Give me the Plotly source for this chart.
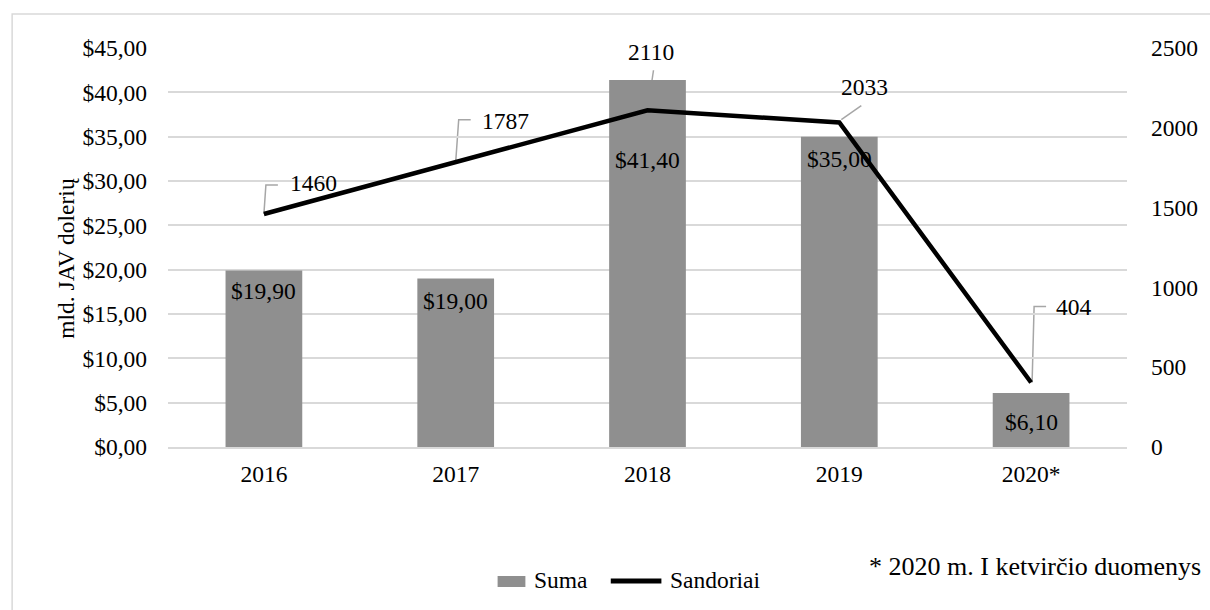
import plotly.graph_objects as go

# Chart data
years = ["2016", "2017", "2018", "2019", "2020*"]
suma = [19.90, 19.00, 41.40, 35.00, 6.10]          # mld. JAV dolerių
sandoriai = [1460, 1787, 2110, 2033, 404]          # number of deals

# Callout layout for the deal labels: (text dx, text dy, leader path) in pixels
callouts = [
    (24, 31, "M0,0 L2,29 L14,29"),
    (24, 41, "M0,0 L3,42 L15,42"),
    (-22, 58, "M0,0 L6,40"),
    (0, 36, "M2,3 L22,17"),
    (23, 76, "M1,0 L3,76 L15,76"),
]
# how far below the bar top each amount label sits (px)
bar_label_drop = [20, 22, 80, 22, 29]

FONT = "Liberation Serif, Times New Roman, serif"
GRID = "#d9d9d9"
BAR = "#8f8f8f"
FS = 23.5
PLOT_L, PLOT_R, PLOT_T, PLOT_B = 168, 1134, 48, 447


def px_x(px):
    return (px - PLOT_L) / (PLOT_R - PLOT_L)


def px_y(py):
    return (PLOT_B - py) / (PLOT_B - PLOT_T)


def money(v):
    return "$" + f"{v:.2f}".replace(".", ",")


fig = go.Figure()

fig.add_trace(go.Bar(
    x=years, y=suma, name="Suma",
    marker=dict(color=BAR, line=dict(width=0)),
    width=0.4, showlegend=False,
    yaxis="y",
))

fig.add_trace(go.Scatter(
    x=years, y=sandoriai, name="Sandoriai",
    mode="lines", showlegend=False,
    line=dict(color="#000000", width=4.5),
    yaxis="y2",
))

annotations = []
shapes = []

# amount labels inside the bars (category axis addressed by index)
for i, (v, drop) in enumerate(zip(suma, bar_label_drop)):
    annotations.append(dict(
        x=i, y=v, xref="x", yref="y",
        text=money(v), showarrow=False,
        xanchor="center", yanchor="middle", yshift=-drop,
        font=dict(family=FONT, size=FS, color="#000000"),
    ))

# deal-count callouts with leader lines
for i, (v, (dx, dy, path)) in enumerate(zip(sandoriai, callouts)):
    annotations.append(dict(
        x=i, y=v, xref="x", yref="y2",
        text=str(v), showarrow=False,
        xanchor="left", yanchor="middle",
        xshift=dx, yshift=dy,
        font=dict(family=FONT, size=FS, color="#000000"),
    ))
    shapes.append(dict(
        type="path", xref="x", yref="y2",
        xsizemode="pixel", ysizemode="pixel",
        xanchor=i, yanchor=v,
        path=path,
        line=dict(color="#a6a6a6", width=1.5),
        layer="below",
    ))

# y-axis title
annotations.append(dict(
    x=px_x(65), y=px_y(258), xref="paper", yref="paper",
    text="mld. JAV dolerių", showarrow=False, textangle=-90,
    xanchor="center", yanchor="middle",
    font=dict(family=FONT, size=FS, color="#000000"),
))

# footnote
annotations.append(dict(
    x=px_x(872), y=px_y(566), xref="paper", yref="paper",
    text="* 2020 m. I ketvirčio duomenys", showarrow=False,
    xanchor="left", yanchor="middle",
    font=dict(family=FONT, size=26, color="#000000"),
))

# legend
shapes.append(dict(
    type="rect", xref="paper", yref="paper",
    x0=px_x(500), x1=px_x(528), y0=px_y(587), y1=px_y(576),
    fillcolor=BAR, line=dict(width=0),
))
shapes.append(dict(
    type="line", xref="paper", yref="paper",
    x0=px_x(614), x1=px_x(665), y0=px_y(581), y1=px_y(581),
    line=dict(color="#000000", width=5),
))
for label, left in (("Suma", 535), ("Sandoriai", 672)):
    annotations.append(dict(
        x=px_x(left), y=px_y(580), xref="paper", yref="paper",
        text=label, showarrow=False,
        xanchor="left", yanchor="middle",
        font=dict(family=FONT, size=FS, color="#000000"),
    ))

# chart border
shapes.append(dict(
    type="rect", xref="paper", yref="paper",
    x0=px_x(11), x1=1.3, y0=-1.0, y1=px_y(14),
    line=dict(color=GRID, width=1.5), layer="below",
))

fig.update_layout(
    width=1210, height=610,
    margin=dict(l=PLOT_L, r=1210 - PLOT_R, t=PLOT_T, b=610 - PLOT_B),
    paper_bgcolor="white", plot_bgcolor="white",
    font=dict(family=FONT, size=FS, color="#000000"),
    separators=",.",
    showlegend=False,
    xaxis=dict(
        type="category", range=[-0.5, 4.5],
        showgrid=False, showline=True, linecolor=GRID, linewidth=1.5,
        ticks="", tickfont=dict(family=FONT, size=FS), ticklabelstandoff=5,
    ),
    yaxis=dict(
        range=[0, 45], dtick=5,
        tickformat="$.2f",
        showgrid=True, gridcolor=GRID, gridwidth=1.5,
        zeroline=False, ticks="", ticklabelstandoff=20,
        tickfont=dict(family=FONT, size=FS),
    ),
    yaxis2=dict(
        range=[0, 2500], dtick=500, overlaying="y", side="right",
        showgrid=False, zeroline=False, ticks="", ticklabelstandoff=23,
        tickfont=dict(family=FONT, size=FS),
    ),
    annotations=annotations,
    shapes=shapes,
)

fig.write_html("out.html")
